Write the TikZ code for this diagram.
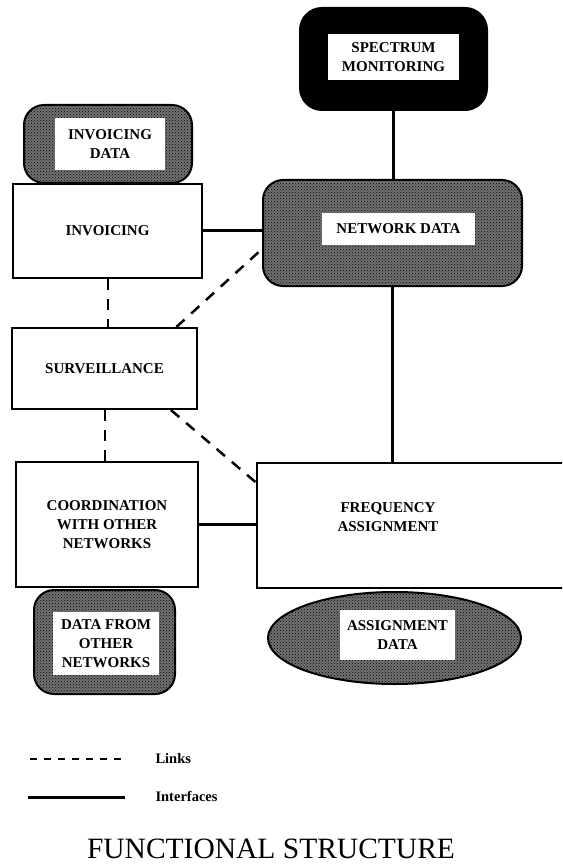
\documentclass[tikz,border=0pt]{standalone}
\usepackage{fontspec}
\setmainfont{Liberation Serif}
\usetikzlibrary{positioning,shapes.geometric,patterns}
\definecolor{fsInk}{HTML}{000000}
\definecolor{fsTexture}{HTML}{727272}
\tikzset{
  every picture/.style={font=\bfseries\fontsize{15}{19}\selectfont, text=fsInk},
  fs box/.style={draw=fsInk, line width=2pt, fill=white, align=center},
  fs store/.style={draw=fsInk, line width=2pt, rounded corners=20pt, fill=fsTexture,
    postaction={pattern=crosshatch dots, pattern color=black}},
  fs label/.style={fill=white, inner sep=0pt, align=center},
  fs iface/.style={draw=fsInk, line width=3pt},
  fs link/.style={draw=fsInk, line width=2.5pt, dash pattern=on 11pt off 9pt},
  fs legend/.style={anchor=base west, font=\bfseries\fontsize{14.5}{16}\selectfont}
}

\begin{document}
\begin{tikzpicture}[x=1pt,y=-1pt]
  \path[use as bounding box, clip] (0,0) rectangle (562,866);
  % spectrum monitoring
  \node[draw=fsInk, fill=fsInk, line width=2pt, rounded corners=22pt,
    minimum width=187, minimum height=102] (spec) at (393.5,59) {};
  \node[fs label, minimum width=131, minimum height=46] (spectxt) at (393.5,57) {SPECTRUM\\MONITORING};
  % data stores
  \node[fs store, minimum width=168, minimum height=78] (invdata) at (108,144) {};
  \node[fs label, minimum width=110, minimum height=52] (invdatatxt) at (110,144) {INVOICING\\DATA};
  \node[fs store, minimum width=259, minimum height=106] (netdata) at (392.5,233) {};
  \node[fs label, minimum width=153, minimum height=32] (netdatatxt) at (398.5,229) {NETWORK DATA};
  \node[fs store, minimum width=141, minimum height=104] (othdata) at (104.5,642) {};
  \node[fs label, minimum width=106, minimum height=63] (othdatatxt) at (106,643.5) {DATA FROM\\OTHER\\NETWORKS};
  \node[fs store, ellipse, inner sep=0pt, minimum width=253, minimum height=92] (assdata) at (394.5,638) {};
  \node[fs label, minimum width=115, minimum height=50] (assdatatxt) at (397.5,635) {ASSIGNMENT\\DATA};
  % functions
  \node[fs box, minimum width=189, minimum height=94] (inv) at (107.5,231) {INVOICING};
  \node[fs box, minimum width=185, minimum height=81] (surv) at (104.5,368.5) {SURVEILLANCE};
  \node[fs box, minimum width=182, minimum height=125] (coord) at (107,524.5) {COORDINATION\\WITH OTHER\\NETWORKS};
  \node[fs box, minimum width=343, minimum height=125] (freq) at (428.5,525.5) {};
  \node[align=center] (freqtxt) at (388,517) {FREQUENCY\\ASSIGNMENT};
  % interfaces
  \draw[fs iface] (spec.south) -- (spec.south |- netdata.north);
  \draw[fs iface] (inv.east) -- (inv.east -| netdata.west);
  \draw[fs iface] (netdata.south) -- (netdata.south |- freq.north);
  \draw[fs iface] (coord.east) -- (coord.east -| freq.west);
  % links
  \draw[fs link, line width=2pt] (inv.south) -- (inv.south |- surv.north);
  \draw[fs link, line width=2pt] (surv.south) -- (surv.south |- coord.north);
  \draw[fs link] (surv.30) -- (netdata.187);
  \draw[fs link] (surv.328) -- (freq.166);
  % legend
  \node[fs legend] (lnktxt) at (152,763) {Links};
  \node[fs legend] (ifctxt) at (152,801) {Interfaces};
  \coordinate (lnk) at (30,759);
  \coordinate (ifc) at (28,797);
  \draw[fs link, dash pattern=on 7pt off 7pt] (lnk) -- (lnk -| 125,0);
  \draw[fs iface] (ifc) -- (ifc -| 125,0);
  % title
  \node[anchor=base, font=\mdseries\fontsize{29.5}{32}\selectfont] (title) at (271,858) {FUNCTIONAL STRUCTURE};
\end{tikzpicture}
\end{document}
